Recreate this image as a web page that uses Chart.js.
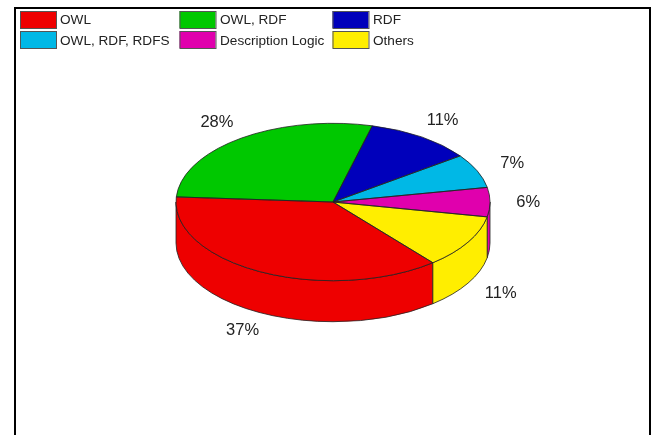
<!DOCTYPE html>
<html><head><meta charset="utf-8">
<style>html,body{margin:0;padding:0;background:#fff}#w{width:654px;height:435px;position:relative}</style>
<script src="https://cdn.jsdelivr.net/npm/chart.js@4"></script>
</head><body><div id="w"><canvas id="c" width="654" height="435"></canvas></div>
<script>
const categories = ['OWL', 'OWL, RDF', 'RDF', 'OWL, RDF, RDFS', 'Description Logic', 'Others'];
const shares = [37, 28, 11, 7, 6, 11];
const sliceColors = ['#EE0000', '#00C800', '#0000BB', '#00B8E6', '#E000AD', '#FFEE00'];
const TILT = 0.5013, DEPTH = 41, LABEL_K = 1.25;
const OUTLINE = '#222222';

const pie3d = {
  id: 'pie3d',
  beforeDraw(chart) {
    const c = chart.ctx;
    c.save();
    c.fillStyle = '#fff'; c.fillRect(0, 0, 654, 435);
    c.strokeStyle = '#000'; c.lineWidth = 2;
    c.strokeRect(15, 8, 635, 500);
    // legend
    const cols = [[20, 60], [179.5, 220], [332.5, 373]];
    const rows = [[11, 20], [31, 41]];
    c.font = '13.6px "Liberation Sans"';
    c.textBaseline = 'middle'; c.textAlign = 'left';
    categories.forEach((t, i) => {
      const col = cols[i % 3], row = rows[Math.floor(i / 3)];
      c.fillStyle = sliceColors[i];
      c.fillRect(col[0], row[0], 36, 17);
      c.strokeStyle = '#555'; c.lineWidth = 1;
      c.strokeRect(col[0] + .5, row[0] + .5, 36, 17);
      c.fillStyle = '#222';
      c.fillText(t, col[1], row[1] + .5);
    });
    c.restore();
  },
  beforeDatasetsDraw(chart) {
    const c = chart.ctx, arcs = chart.getDatasetMeta(0).data;
    const { x, y, outerRadius: r } = arcs[0];
    const wall = (a, b, fill) => {
      c.beginPath();
      c.ellipse(x, y, r, r * TILT, 0, a, b, false);
      c.lineTo(x + r * Math.cos(b), y + r * TILT * Math.sin(b) + DEPTH);
      c.ellipse(x, y + DEPTH, r, r * TILT, 0, b, a, true);
      c.closePath();
      c.fillStyle = fill; c.fill();
      c.strokeStyle = OUTLINE; c.lineWidth = .8; c.stroke();
    };
    const TAU = Math.PI * 2;
    c.save();
    arcs.forEach((arc, i) => {
      for (const shift of [0, -TAU]) {
        const a = Math.max(arc.startAngle + shift, 0);
        const b = Math.min(arc.endAngle + shift, Math.PI);
        if (b > a) wall(a, b, sliceColors[i]);
      }
    });
    c.restore();
    c.save();
    c.translate(x, y); c.scale(1, TILT); c.translate(-x, -y);
  },
  afterDatasetsDraw(chart) {
    const c = chart.ctx, arcs = chart.getDatasetMeta(0).data;
    c.restore();
    const { x, y, outerRadius: r } = arcs[0];
    c.save();
    arcs.forEach(arc => {
      c.beginPath();
      c.moveTo(x, y);
      c.ellipse(x, y, r, r * TILT, 0, arc.startAngle, arc.endAngle, false);
      c.closePath();
      c.strokeStyle = OUTLINE; c.lineWidth = .8; c.stroke();
    });
    c.font = '16.5px "Liberation Sans"';
    c.fillStyle = '#222'; c.textAlign = 'center'; c.textBaseline = 'middle';
    arcs.forEach((arc, i) => {
      const m = (arc.startAngle + arc.endAngle) / 2;
      const s = Math.sin(m);
      const lx = x - 1 + r * LABEL_K * Math.cos(m);
      const ly = y + r * TILT * LABEL_K * s + (s > 0.05 ? DEPTH : 0);
      c.fillText(shares[i] + '%', lx, ly);
    });
    c.restore();
  }
};

new Chart(document.getElementById('c'), {
  type: 'pie',
  data: { labels: categories, datasets: [{ data: shares, backgroundColor: sliceColors, borderWidth: 0 }] },
  options: {
    responsive: false, animation: false,
    rotation: 140.5,
    layout: { padding: { left: 176, right: 164, top: 45, bottom: 76 } },
    events: [],
    plugins: { legend: { display: false }, tooltip: { enabled: false } }
  },
  plugins: [pie3d]
});
</script></body></html>
